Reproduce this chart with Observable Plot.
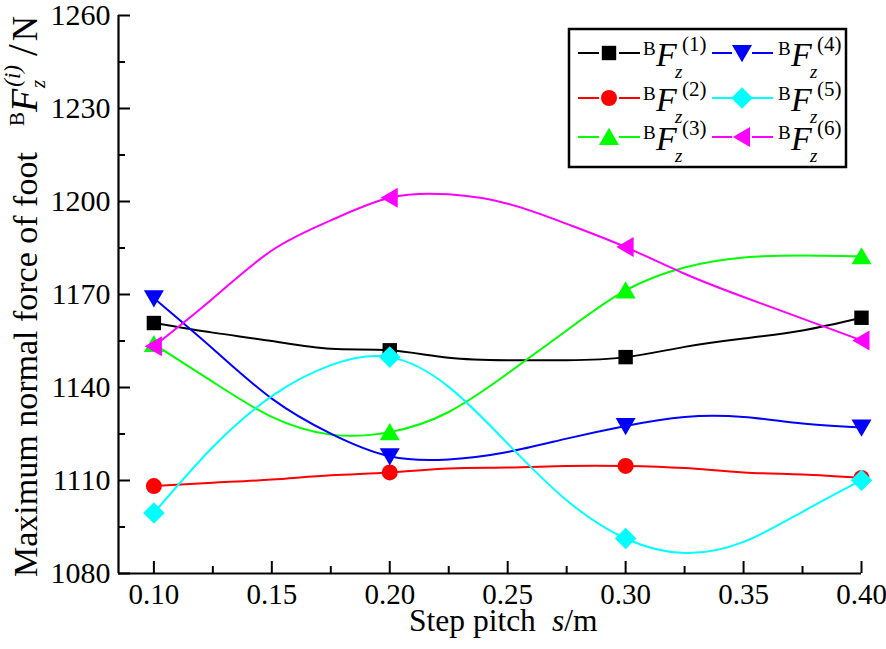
<!DOCTYPE html>
<html>
<head>
<meta charset="utf-8">
<script src="https://cdn.jsdelivr.net/npm/d3@7"></script>
<script src="https://cdn.jsdelivr.net/npm/@observablehq/plot@0.6"></script>
<style>
  body { margin: 0; background: #fff; }
  #chart svg { overflow: visible; }
  #chart svg, #chart svg text { font-family: "Liberation Serif", "Times New Roman", serif !important; }
</style>
</head>
<body>
<div id="chart"></div>
<script>
// ---- data ----
const stepPitch = [0.100, 0.125, 0.150, 0.175, 0.200, 0.225, 0.250, 0.275, 0.300, 0.325, 0.350, 0.375, 0.400];
const markerIndex = [0, 4, 8, 12]; // markers at s = 0.10, 0.20, 0.30, 0.40
const force1 = [1160.8, 1157.7, 1155.0, 1152.5, 1152.0, 1149.6, 1148.8, 1148.8, 1149.8, 1153.1, 1155.8, 1158.4, 1162.5];
const force2 = [1108.2, 1109.3, 1110.3, 1111.7, 1112.6, 1113.9, 1114.2, 1114.7, 1114.7, 1114.0, 1112.6, 1111.9, 1110.8];
const force3 = [1154.0, 1141.8, 1130.5, 1124.8, 1125.6, 1132.1, 1144.5, 1158.4, 1171.3, 1178.7, 1181.9, 1182.6, 1182.3];
const force4 = [1168.8, 1152.5, 1136.4, 1125.1, 1117.8, 1116.8, 1119.2, 1123.5, 1127.6, 1130.5, 1130.5, 1128.4, 1127.1];
const force5 = [1099.5, 1120.8, 1137.2, 1147.2, 1149.8, 1140.2, 1121.9, 1103.6, 1091.3, 1086.6, 1090.2, 1099.9, 1110.1];
const force6 = [1153.3, 1168.7, 1184.2, 1193.9, 1201.2, 1202.3, 1199.3, 1192.8, 1185.3, 1176.7, 1169.2, 1162.2, 1155.2];
const seriesValues = [force1, force2, force3, force4, force5, force6];
const seriesIndex = ["1", "2", "3", "4", "5", "6"];
const seriesColors = ["#000000", "#ff0000", "#00ff00", "#0000ff", "#00ffff", "#ff00ff"];
const seriesSymbols = ["square", "circle", "triangleUp", "triangleDown", "diamond", "triangleLeft"];
const xTicks = [0.10, 0.15, 0.20, 0.25, 0.30, 0.35, 0.40];
const xMinorTicks = [0.125, 0.175, 0.225, 0.275, 0.325, 0.375];
const yTicks = [1080, 1110, 1140, 1170, 1200, 1230, 1260];
const yMinorTicks = [1095, 1125, 1155, 1185, 1215, 1245];

// ---- custom marker shapes ----
const rOf = s => Math.sqrt(s / Math.PI);
const symbolDefs = {
  square: { draw(c, s) { const r = rOf(s), h = 0.9 * r; c.moveTo(-h, -h); c.lineTo(h, -h); c.lineTo(h, h); c.lineTo(-h, h); c.closePath(); } },
  circle: { draw(c, s) { const r = rOf(s); c.moveTo(r, 0); c.arc(0, 0, r, 0, 2 * Math.PI); } },
  triangleUp: { draw(c, s) { const r = rOf(s); c.moveTo(0, -1.15 * r); c.lineTo(1.25 * r, 1.0 * r); c.lineTo(-1.25 * r, 1.0 * r); c.closePath(); } },
  triangleDown: { draw(c, s) { const r = rOf(s); c.moveTo(0, 1.15 * r); c.lineTo(1.25 * r, -1.0 * r); c.lineTo(-1.25 * r, -1.0 * r); c.closePath(); } },
  diamond: { draw(c, s) { const r = rOf(s), h = 1.35 * r; c.moveTo(0, -h); c.lineTo(h, 0); c.lineTo(0, h); c.lineTo(-h, 0); c.closePath(); } },
  triangleLeft: { draw(c, s) { const r = rOf(s); c.moveTo(-1.15 * r, 0); c.lineTo(1.0 * r, -1.25 * r); c.lineTo(1.0 * r, 1.25 * r); c.closePath(); } }
};
const markerR = 8;

// ---- tables ----
const lineRows = seriesValues.map(vals => vals.map((v, i) => ({ s: stepPitch[i], v })));
const markerRows = lineRows.map(rows => markerIndex.map(i => rows[i]));

const W = 886, H = 649, mL = 118, mR = 25, mT = 15, mB = 76;
const plotW = W - mL - mR, plotH = H - mT - mB;
const serif = "'Liberation Serif', 'Times New Roman', serif";

const marks = [
  Plot.ruleY([1080], { stroke: "#000", strokeWidth: 2.2 }),
  Plot.ruleX([0.085], { stroke: "#000", strokeWidth: 2.2 }),
  Plot.ruleX(xTicks, { stroke: "#000", strokeWidth: 2, insetTop: plotH - 12 }),
  Plot.ruleX(xMinorTicks, { stroke: "#000", strokeWidth: 2, insetTop: plotH - 7 }),
  Plot.ruleY(yTicks, { stroke: "#000", strokeWidth: 2, insetRight: plotW - 12 }),
  Plot.ruleY(yMinorTicks, { stroke: "#000", strokeWidth: 2, insetRight: plotW - 7 }),
  Plot.axisX({ ticks: xTicks, tickFormat: d3.format(".2f"), tickSize: 0, tickPadding: 10, label: null, fontSize: 29, fontFamily: serif }),
  Plot.axisY({ ticks: yTicks, tickFormat: d3.format("d"), tickSize: 0, tickPadding: 8, label: null, fontSize: 30, fontFamily: serif })
];
seriesValues.forEach((_, k) => {
  marks.push(Plot.line(lineRows[k], { x: "s", y: "v", stroke: seriesColors[k], strokeWidth: 2, curve: "natural" }));
  marks.push(Plot.dot(markerRows[k], { x: "s", y: "v", fill: seriesColors[k], stroke: "none", r: markerR, symbol: symbolDefs[seriesSymbols[k]] }));
});

const chart = Plot.plot({
  width: W, height: H,
  marginLeft: mL, marginRight: mR, marginTop: mT, marginBottom: mB,
  x: { domain: [0.085, 0.40] },
  y: { domain: [1080, 1260] },
  style: { fontFamily: serif, fontSize: "29px", background: "#fff", color: "#000", overflow: "visible" },
  marks
});
document.getElementById("chart").appendChild(chart);

// ---- axis titles & legend (rich text) ----
const svg = d3.select(chart);

// x title
const xt = svg.append("text").attr("x", 409).attr("y", 631).attr("text-anchor", "start").attr("font-family", serif).attr("font-size", 31.5).attr("fill", "#000");
xt.append("tspan").text("Step pitch");
xt.append("tspan").attr("dx", 16).attr("font-style", "italic").text("s");
xt.append("tspan").text("/m");

// y title
const yt = svg.append("text").attr("transform", "translate(37,577) rotate(-90)").attr("text-anchor", "start").attr("font-family", serif).attr("font-size", 34).attr("fill", "#000");
yt.append("tspan").text("Maximum normal force of foot");
yt.append("tspan").attr("dx", 26).attr("dy", -13).attr("font-size", 21).text("B");
yt.append("tspan").attr("dy", 13).attr("font-size", 38).attr("font-style", "italic").text("F");
yt.append("tspan").attr("dy", 8).attr("dx", 1).attr("font-size", 21).attr("font-style", "italic").text("z");
yt.append("tspan").attr("dy", -25).attr("dx", -7).attr("font-size", 23).attr("font-style", "italic").text("(i)");
yt.append("tspan").attr("dy", 17).attr("dx", 9).attr("font-size", 42).text("/");
yt.append("tspan").attr("dx", 3).attr("font-size", 35).text("N");

// legend
const lg = svg.append("g").attr("text-anchor", "start");
lg.append("rect").attr("x", 569).attr("y", 29).attr("width", 277).attr("height", 138).attr("fill", "#fff").attr("stroke", "#000").attr("stroke-width", 2.5);
const colLine = [[578, 640], [712, 773]];
const colMarker = [609, 742];
const colLabel = [643, 778];
const rowY = [53, 98, 137];
seriesIndex.forEach((name, k) => {
  const col = Math.floor(k / 3), row = k % 3;
  const yc = rowY[row], mx = colMarker[col];
  const [x1, x2] = colLine[col];
  lg.append("line").attr("x1", x1).attr("x2", mx - 10).attr("y1", yc).attr("y2", yc).attr("stroke", seriesColors[k]).attr("stroke-width", 2);
  lg.append("line").attr("x1", mx + 10).attr("x2", x2).attr("y1", yc).attr("y2", yc).attr("stroke", seriesColors[k]).attr("stroke-width", 2);
  lg.append("path").attr("transform", `translate(${mx},${yc})`)
    .attr("d", d3.symbol(symbolDefs[seriesSymbols[k]], Math.PI * markerR * markerR)())
    .attr("fill", seriesColors[k]);
  const x0 = colLabel[col];
  const txt = lg.append("text").attr("text-anchor", "start").attr("font-family", serif).attr("fill", "#000");
  const part = (x, y, size, italic, str) => txt.append("tspan").attr("x", x).attr("y", y)
    .attr("font-size", size).attr("font-style", italic ? "italic" : "normal").text(str);
  part(x0, yc + 2, 19, false, "B");
  part(x0 + 13, yc + 13, 34, true, "F");
  part(x0 + 32, yc + 25, 19, true, "z");
  part(x0 + 39, yc - 2, 21, false, `(${name})`);
});
</script>
</body>
</html>
